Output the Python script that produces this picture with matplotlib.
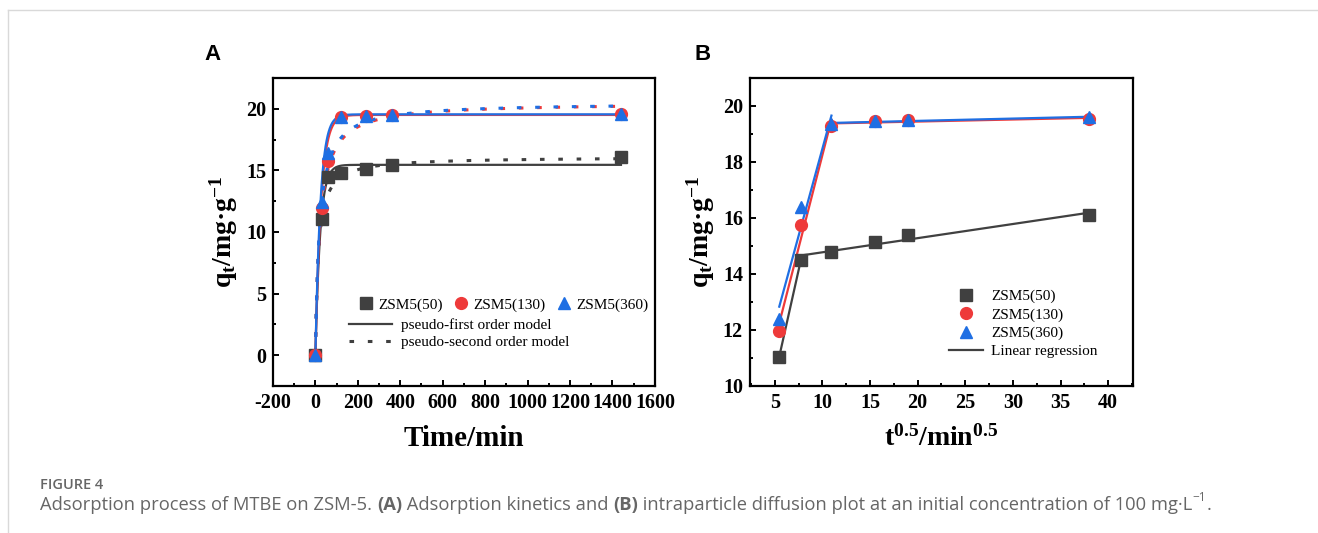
import matplotlib.pyplot as plt
import numpy as np
from matplotlib.lines import Line2D
from matplotlib.ticker import MultipleLocator

# Data
time_min = [0, 30, 60, 120, 240, 360, 1440]
q_50 = [0, 11.05, 14.5, 14.8, 15.15, 15.4, 16.1]
q_130 = [0, 11.95, 15.75, 19.3, 19.45, 19.5, 19.55]
q_360 = [0, 12.4, 16.4, 19.35, 19.45, 19.5, 19.6]
labels = ['ZSM5(50)', 'ZSM5(130)', 'ZSM5(360)']

# fitted kinetic parameters (qe, k)
pfo_params = [(15.45, 0.045), (19.5, 0.038), (19.55, 0.042)]
pso_params = [(16.1, 0.0045), (20.5, 0.0023), (20.5, 0.0025)]

# intraparticle diffusion: index where the second linear stage starts
break_idx = [2, 3, 3]

colors = ['#404040', '#ee3a3a', '#1f6fe3']
markers = ['s', 'o', '^']

plt.rcParams['font.family'] = 'Liberation Serif'
plt.rcParams['axes.unicode_minus'] = False
plt.rcParams['mathtext.fontset'] = 'custom'
plt.rcParams['mathtext.rm'] = 'Liberation Serif:bold'
plt.rcParams['mathtext.bf'] = 'Liberation Serif:bold'
plt.rcParams['mathtext.it'] = 'Liberation Serif:bold'

fig = plt.figure(figsize=(13.18, 5.33), dpi=100)
axA = fig.add_axes([0.2071, 0.2758, 0.2898, 0.5779])
axB = fig.add_axes([0.569, 0.2758, 0.2906, 0.5779])

series = [q_50, q_130, q_360]

# ---- panel A
t_fit = np.linspace(0, 1440, 600)
for q, lab, c, m, (qe1, k1), (qe2, k2) in zip(series, labels, colors, markers, pfo_params, pso_params):
    axA.plot(t_fit, qe1 * (1 - np.exp(-k1 * t_fit)), color=c, lw=1.6, zorder=2)
    axA.plot(t_fit, qe2 ** 2 * k2 * t_fit / (1 + qe2 * k2 * t_fit), color=c, lw=2.2,
             ls=(0, (1.5, 4.5)), zorder=2)
    axA.plot(time_min, q, ls='none', marker=m, color=c, ms=8.5, label=lab, zorder=3)

axA.set_xlim(-200, 1600)
axA.set_ylim(-2.5, 22.5)
axA.xaxis.set_major_locator(MultipleLocator(200))
axA.xaxis.set_minor_locator(MultipleLocator(100))
axA.yaxis.set_major_locator(MultipleLocator(5))
axA.yaxis.set_minor_locator(MultipleLocator(2.5))
axA.set_xlabel('Time/min', fontsize=21, fontweight='bold', labelpad=9)
axA.set_ylabel(r'q$_{t}$/mg·g$^{-1}$', fontsize=20, fontweight='bold', labelpad=4)

leg1 = axA.legend(loc='upper left', bbox_to_anchor=(0.2, 0.31), ncol=3, frameon=False,
                  fontsize=11, handletextpad=0.2, columnspacing=0.6, borderpad=0,
                  handlelength=1.2)
axA.add_artist(leg1)
h_lines = [Line2D([], [], color='#404040', lw=1.6),
           Line2D([], [], color='#404040', lw=2.2, ls=(0, (1.5, 4.5)))]
axA.legend(h_lines, ['pseudo-first order model', 'pseudo-second order model'],
           loc='upper left', bbox_to_anchor=(0.18, 0.245), frameon=False, fontsize=11,
           handlelength=2.8, handletextpad=0.6, labelspacing=0.25, borderpad=0)

# ---- panel B
sqrt_t = [np.sqrt(t) for t in time_min[1:]]
for q, lab, c, m, b in zip(series, labels, colors, markers, break_idx):
    x = np.array(sqrt_t)
    y = np.array(q[1:])
    for xs, ys in [(x[:b], y[:b]), (x[b - 1:], y[b - 1:])]:
        p = np.polyfit(xs, ys, 1)
        axB.plot(xs[[0, -1]], np.polyval(p, xs[[0, -1]]), color=c, lw=1.6, zorder=2)
    axB.plot(x, y, ls='none', marker=m, color=c, ms=8.5, label=lab, zorder=3)

axB.set_xlim(2.4, 42.6)
axB.set_ylim(10, 21)
axB.xaxis.set_major_locator(MultipleLocator(5))
axB.xaxis.set_minor_locator(MultipleLocator(2.5))
axB.yaxis.set_major_locator(MultipleLocator(2))
axB.yaxis.set_minor_locator(MultipleLocator(1))
axB.set_xlabel(r't$^{0.5}$/min$^{0.5}$', fontsize=20, fontweight='bold', labelpad=9)
axB.set_ylabel(r'q$_{t}$/mg·g$^{-1}$', fontsize=20, fontweight='bold', labelpad=4)
hB, lB = axB.get_legend_handles_labels()
hB.append(Line2D([], [], color='#404040', lw=1.6))
lB.append('Linear regression')
axB.legend(hB, lB, loc='lower left', bbox_to_anchor=(0.5, 0.065), frameon=False,
           fontsize=11, handlelength=2.2, handletextpad=0.55, labelspacing=0.3,
           borderpad=0)

for ax in (axA, axB):
    for s in ax.spines.values():
        s.set_linewidth(1.6)
    ax.tick_params(which='both', direction='in', width=1.4, top=False, right=False)
    ax.tick_params(which='major', length=4, labelsize=14.5, pad=5)
    ax.tick_params(which='minor', length=2.5)
    for t in ax.get_xticklabels() + ax.get_yticklabels():
        t.set_fontweight('bold')

# panel letters
fig.text(213 / 1318, 1 - 55 / 533, 'A', family='Liberation Sans', fontweight='bold',
         fontsize=16, ha='center', va='center')
fig.text(703 / 1318, 1 - 55 / 533, 'B', family='Liberation Sans', fontweight='bold',
         fontsize=16, ha='center', va='center')

# card border lines
fig.add_artist(Line2D([8 / 1318, 1], [1 - 10 / 533, 1 - 10 / 533], color='#d9d9d9', lw=1))
fig.add_artist(Line2D([8 / 1318, 8 / 1318], [0, 1 - 10 / 533], color='#d9d9d9', lw=1))

# caption
cap = '#666666'
fig.text(40 / 1318, 1 - 485 / 533, 'FIGURE 4', family='Open Sans', fontsize=10.5,
         fontweight='semibold', color=cap, va='center')
pieces = [('Adsorption process of MTBE on ZSM-5. ', 'normal'), ('(A)', 'bold'),
          (' Adsorption kinetics and ', 'normal'), ('(B)', 'bold'),
          (' intraparticle diffusion plot at an initial concentration of 100 mg·L', 'normal')]
prev = fig.text(40 / 1318, 1 - 514 / 533, '', family='Open Sans', fontsize=13.2,
                color=cap, va='bottom')
for txt, w in pieces:
    prev = plt.annotate(txt, xy=(1, 0), xycoords=prev, va='bottom', ha='left',
                        family='Open Sans', fontsize=13.2, color=cap, fontweight=w,
                        annotation_clip=False)
plt.annotate('−1', xy=(1, 0.55), xycoords=prev, va='bottom', ha='left',
             family='Open Sans', fontsize=8.5, color=cap, annotation_clip=False)
plt.annotate('.', xy=(1, 0), xycoords=prev, xytext=(10, 0), textcoords='offset points',
             va='bottom', ha='left', family='Open Sans', fontsize=13.2, color=cap,
             annotation_clip=False)

fig.savefig('out.png', dpi=100)
